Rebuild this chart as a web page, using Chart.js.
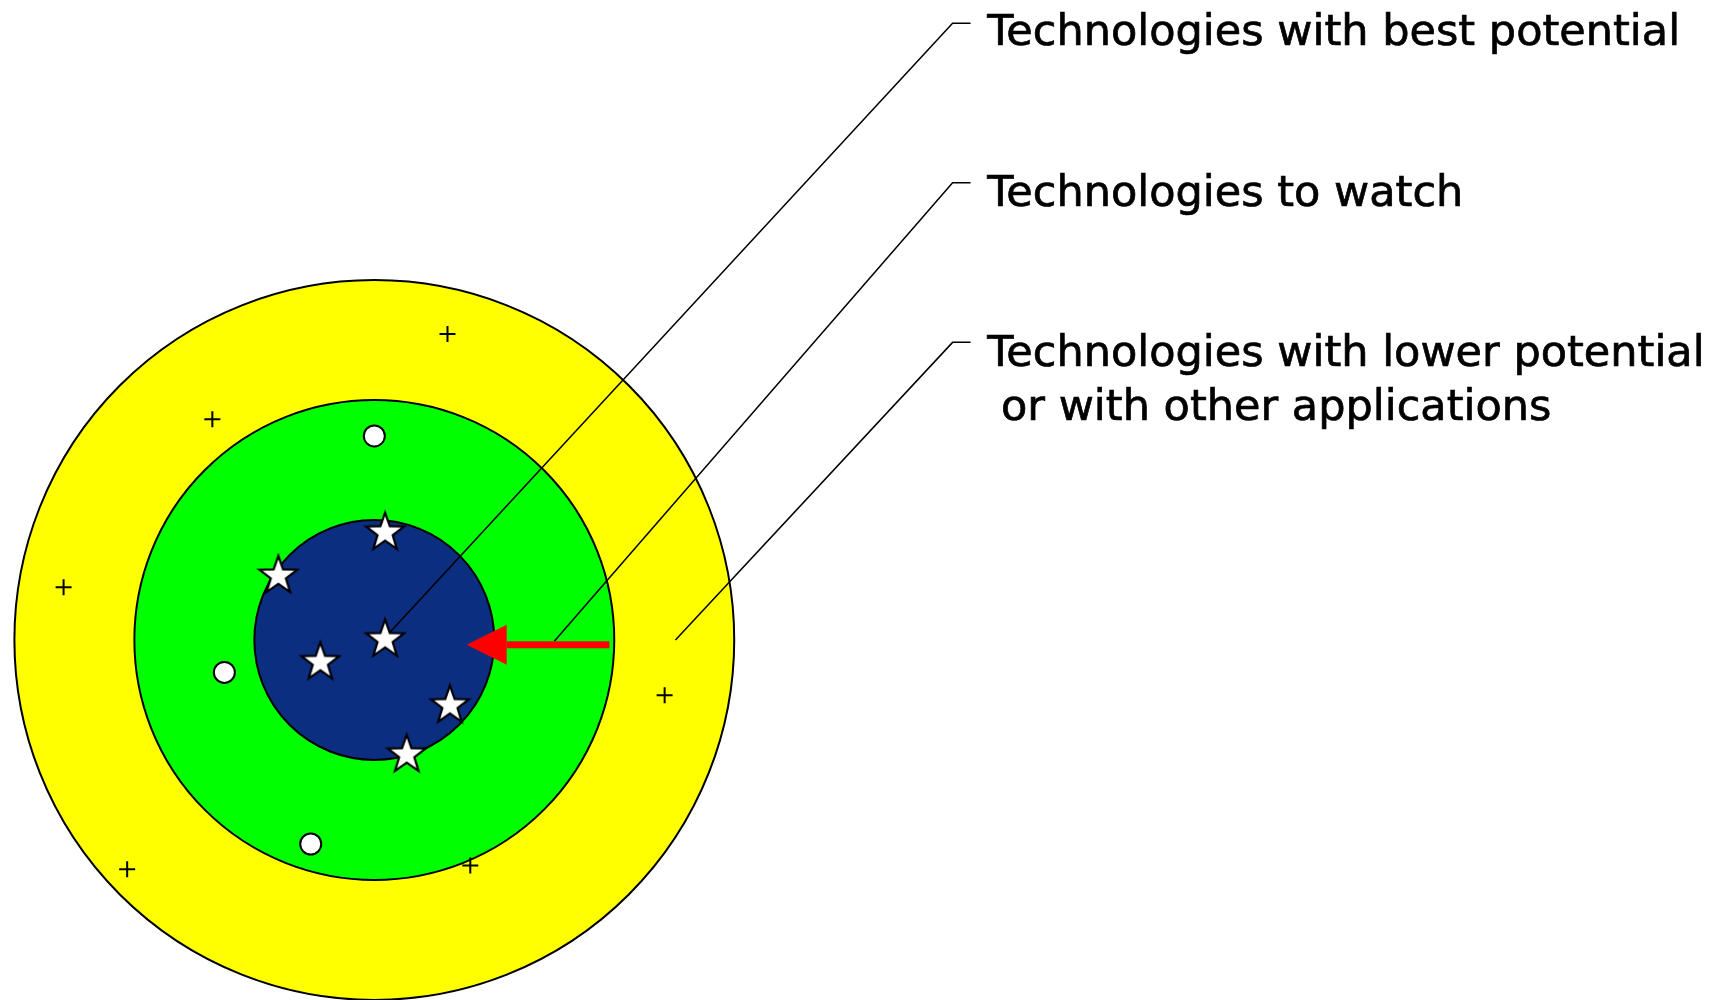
<!DOCTYPE html>
<html>
<head>
<meta charset="utf-8">
<title>Technology target</title>
<script src="https://cdn.jsdelivr.net/npm/chart.js@4.4.1/dist/chart.umd.min.js"></script>
<style>
  html, body { margin: 0; padding: 0; background: #fff; }
  #wrap { position: relative; width: 1724px; height: 1000px; }
</style>
</head>
<body>
<div id="wrap"><canvas id="target"></canvas></div>
<script>
// target rings (radius in chart units, centre at 0,0)
const ringRadii = [3, 2, 1];

// best potential (stars)
const starX = [0.09, -0.80, 0.09, -0.45, 0.63, 0.27];
const starY = [0.91, 0.55, 0.02, -0.17, -0.53, -0.94];

// to watch (open circles)
const dotX = [0.00, -1.25, -0.53];
const dotY = [1.70, -0.27, -1.70];

// lower potential (plus signs)
const plusX = [0.61, -1.35, -2.59, 2.42, -2.06, 0.80];
const plusY = [2.55, 1.84, 0.44, -0.46, -1.91, -1.88];

// leader lines: from a mark, up to the label, then a short tick
const leadBestX = [0.09, 4.82, 4.97];
const leadBestY = [0.02, 5.14, 5.14];
const leadWatchX = [1.50, 4.82, 4.97];
const leadWatchY = [-0.01, 3.81, 3.81];
const leadLowX = [2.51, 4.82, 4.97];
const leadLowY = [0.00, 2.48, 2.48];

// label texts and where they sit
const labelTexts = ['Technologies with best potential', 'Technologies to watch',
                    'Technologies with lower potential', ' or with other applications'];
const labelX = [5.11, 5.11, 5.11, 5.11];
const labelY = [4.96, 3.62, 2.28, 1.83];

// red arrow pointing at the centre
const arrowFrom = [1.96, -0.04];
const arrowTo = [0.77, -0.04];

const ringColors = ['#ffff00', '#00ff00', '#0c2e80'];

function pts(xs, ys) {
    return xs.map((v, i) => ({ x: v, y: ys[i] }));
}

// filled white star used as point style
function makeStar(R) {
    const c = document.createElement('canvas');
    const size = Math.ceil(2 * R + 4);
    c.width = size;
    c.height = size;
    const g = c.getContext('2d');
    const cx = size / 2, cy = size / 2 + R * 0.095;
    const r = R * 0.4;
    g.beginPath();
    for (let i = 0; i < 10; i++) {
        const rad = i % 2 === 0 ? R : r;
        const a = -Math.PI / 2 + i * Math.PI / 5;
        const px = cx + rad * Math.cos(a), py = cy + rad * Math.sin(a);
        if (i === 0) g.moveTo(px, py); else g.lineTo(px, py);
    }
    g.closePath();
    g.fillStyle = '#fff';
    g.fill();
    g.lineWidth = 2.2;
    g.lineJoin = 'miter';
    g.strokeStyle = '#000';
    g.stroke();
    return c;
}
const starImg = makeStar(20);

function leader(xs, ys) {
    return {
        type: 'line',
        data: pts(xs, ys),
        borderColor: '#000',
        borderWidth: 1.5,
        pointRadius: 0,
        tension: 0,
        fill: false,
        order: 4
    };
}

// arrow + text labels
const annotate = {
    id: 'annotate',
    afterDatasetsDraw(chart) {
        const { ctx, scales: { x, y } } = chart;
        ctx.save();
        const x0 = x.getPixelForValue(arrowFrom[0]);
        const y0 = y.getPixelForValue(arrowFrom[1]);
        const x1 = x.getPixelForValue(arrowTo[0]);
        const y1 = y.getPixelForValue(arrowTo[1]);
        const headLen = 40, headHalf = 20;
        ctx.fillStyle = '#ff0000';
        ctx.fillRect(x1 + headLen, y0 - 3.5, x0 - x1 - headLen, 7);
        ctx.beginPath();
        ctx.moveTo(x1, y1);
        ctx.lineTo(x1 + headLen, y1 - headHalf);
        ctx.lineTo(x1 + headLen, y1 + headHalf);
        ctx.closePath();
        ctx.fill();

        ctx.fillStyle = '#000';
        ctx.strokeStyle = '#000';
        ctx.lineWidth = 0.7;
        ctx.font = '43px "DejaVu Sans"';
        ctx.textAlign = 'left';
        ctx.textBaseline = 'alphabetic';
        labelTexts.forEach((t, i) => {
            const tx = x.getPixelForValue(labelX[i]);
            const ty = y.getPixelForValue(labelY[i]);
            ctx.fillText(t, tx, ty);
            ctx.strokeText(t, tx, ty);
        });
        ctx.restore();
    }
};

const pxPerUnit = s => s.getPixelForValue(1) - s.getPixelForValue(0);

new Chart(document.getElementById('target'), {
    type: 'scatter',
    data: {
        datasets: [
            {
                label: 'Technologies with best potential',
                data: pts(starX, starY),
                pointStyle: starImg,
                pointRadius: 20,
                order: 1
            },
            {
                label: 'Technologies to watch',
                data: pts(dotX, dotY),
                pointStyle: 'circle',
                pointRadius: 10.5,
                backgroundColor: '#fff',
                borderColor: '#000',
                borderWidth: 2,
                order: 2
            },
            {
                label: 'Technologies with lower potential',
                data: pts(plusX, plusY),
                pointStyle: 'cross',
                pointRadius: 8,
                borderColor: '#000',
                borderWidth: 2,
                order: 3
            },
            leader(leadBestX, leadBestY),
            leader(leadWatchX, leadWatchY),
            leader(leadLowX, leadLowY),
            {
                label: 'rings',
                data: ringRadii.map(() => ({ x: 0, y: 0 })),
                pointStyle: 'circle',
                pointRadius: c => ringRadii[c.dataIndex] * pxPerUnit(c.chart.scales.x),
                backgroundColor: ringColors,
                borderColor: '#000',
                borderWidth: 2,
                order: 5
            }
        ]
    },
    options: {
        responsive: true,
        maintainAspectRatio: false,
        animation: false,
        events: [],
        layout: { padding: 0, autoPadding: false },
        plugins: {
            legend: { display: false },
            tooltip: { enabled: false }
        },
        scales: {
            x: { type: 'linear', min: -3.12, max: 11.25, display: false },
            y: { type: 'linear', min: -3, max: 5.333, display: false }
        }
    },
    plugins: [annotate]
});
</script>
</body>
</html>
